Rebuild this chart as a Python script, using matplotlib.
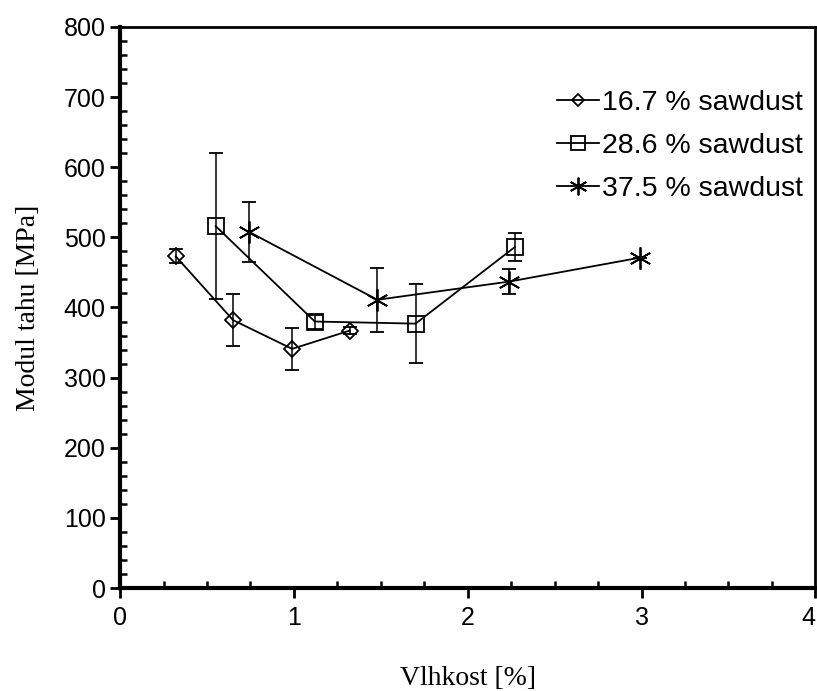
import matplotlib.pyplot as plt
from matplotlib.lines import Line2D
from matplotlib.ticker import MultipleLocator

# data
x_167 = [0.32, 0.65, 0.99, 1.32]
y_167 = [473, 382, 341, 367]
e_167 = [10, 37, 30, 5]

x_286 = [0.55, 1.12, 1.70, 2.27]
y_286 = [516, 380, 377, 486]
e_286 = [104, 10, 56, 20]

x_375 = [0.74, 1.48, 2.24, 2.99]
y_375 = [508, 411, 437, 471]
e_375 = [43, 46, 18, 0]

labels = ["16.7 % sawdust", "28.6 % sawdust", "37.5 % sawdust"]
xticks = [0, 1, 2, 3, 4]

plt.rcParams['font.family'] = ['Liberation Sans', 'DejaVu Sans']

fig = plt.figure(figsize=(8.17, 6.91), dpi=100)
ax = fig.add_axes([0.147, 0.149, 0.851, 0.812])

style = dict(color='black', lw=1.3, capsize=5, elinewidth=1.1, capthick=1.3,
             markerfacecolor='none', markeredgecolor='black', markeredgewidth=1.3)
markers = [('D', 8), ('s', 12), ((6, 2, 0), 16)]
series = [(x_167, y_167, e_167), (x_286, y_286, e_286), (x_375, y_375, e_375)]
handles = []
for (xs, ys, es), (m, ms), lab in zip(series, markers, labels):
    ax.errorbar(xs, ys, yerr=es, marker=m, ms=ms, **style)
    handles.append(Line2D([], [], color='black', lw=1.3, marker=m, ms=ms * 0.8,
                          markerfacecolor='none', markeredgecolor='black',
                          markeredgewidth=1.3, label=lab))

ax.set_xlim(0, 4)
ax.set_ylim(0, 800)
ax.set_xticks(xticks, [str(v) for v in xticks])
ax.xaxis.set_minor_locator(MultipleLocator(0.25))
ax.yaxis.set_major_locator(MultipleLocator(100))
ax.yaxis.set_minor_locator(MultipleLocator(20))
ax.tick_params(which='major', direction='out', length=7, width=2, labelsize=18)
ax.tick_params(which='minor', direction='in', length=5, width=1.8)
ax.tick_params(axis='x', pad=6)
for s in ['left', 'bottom']:
    ax.spines[s].set_linewidth(3)
for s in ['top', 'right']:
    ax.spines[s].set_linewidth(2)

# last x label sits at the right edge, keep it inside the figure
ax.xaxis.get_major_ticks()[-1].label1.set_horizontalalignment('right')

ax.set_xlabel("Vlhkost [%]", family='Liberation Serif', fontsize=20, labelpad=26)
ax.set_ylabel("Modul tahu [MPa]", family='Liberation Serif', fontsize=20, labelpad=16)

ax.legend(handles=handles, loc='upper left', bbox_to_anchor=(0.629, 0.888),
          borderaxespad=0, borderpad=0, frameon=False, fontsize=20.5,
          handlelength=1.45, handletextpad=0.12, labelspacing=0.6)

fig.savefig("out.png", dpi=100)
